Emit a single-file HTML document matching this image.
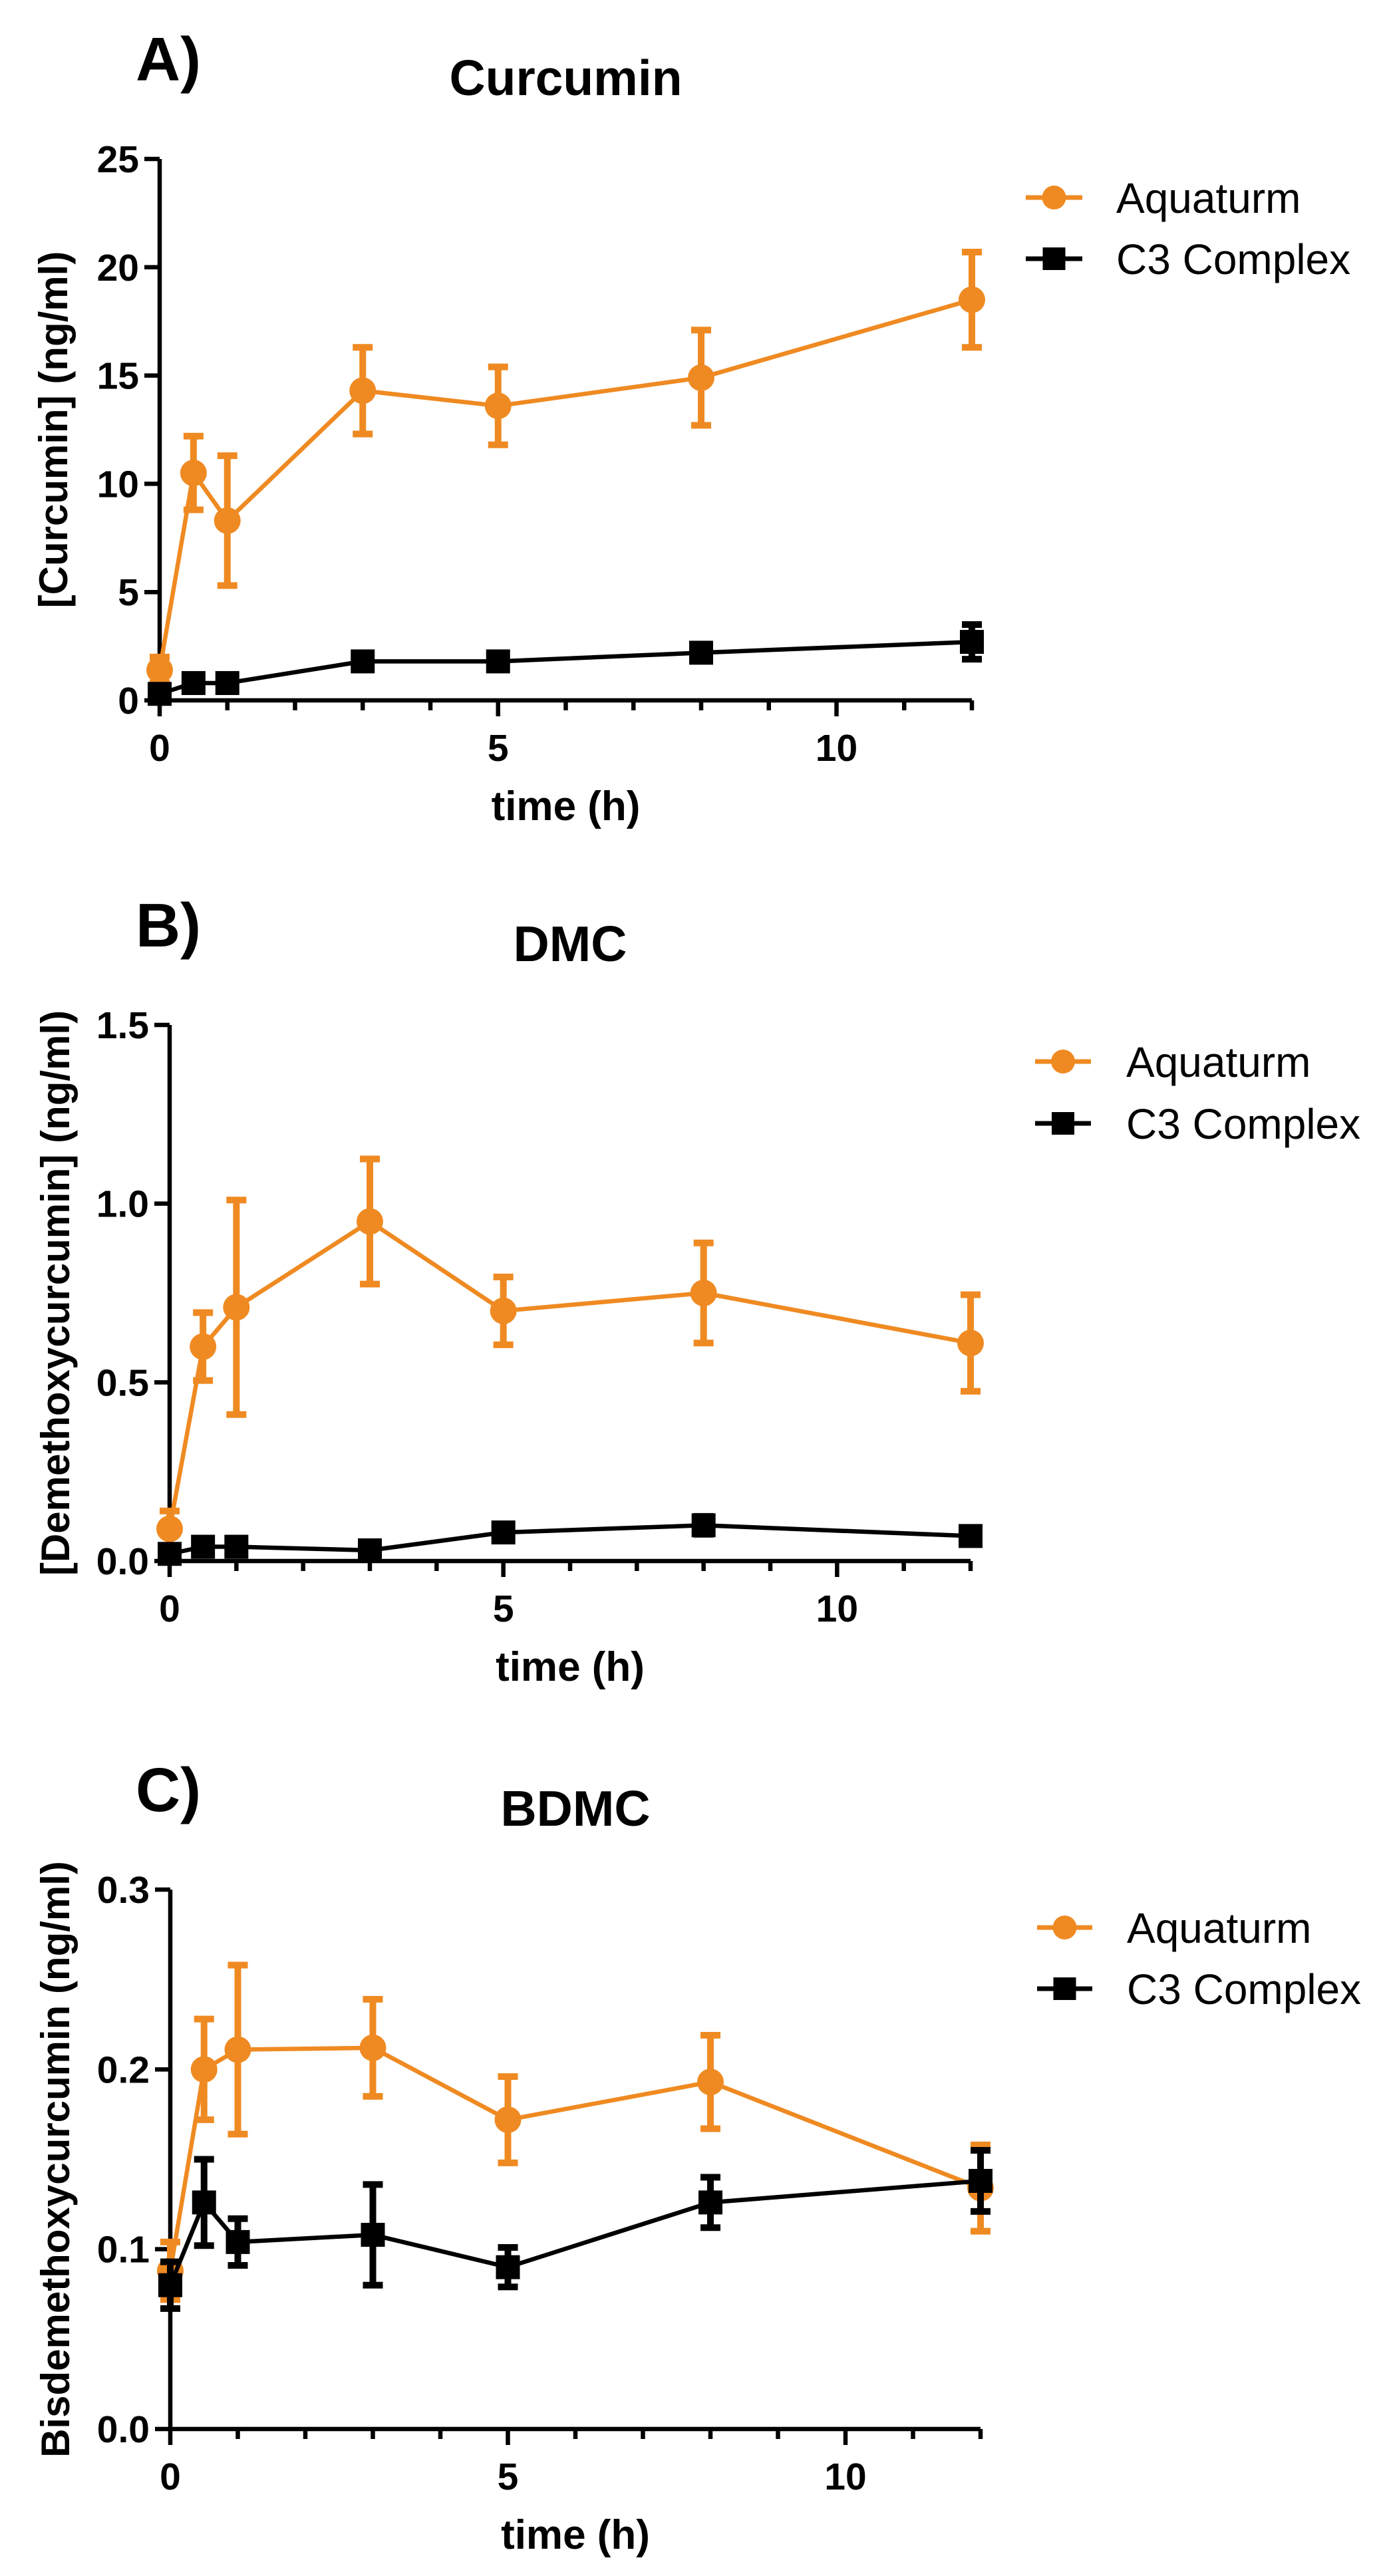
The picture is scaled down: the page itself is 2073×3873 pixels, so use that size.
<!DOCTYPE html>
<html><head><meta charset="utf-8">
<style>
html,body{margin:0;padding:0;background:#fff;}
svg{display:block;}
text{font-family:"Liberation Sans",Arial,sans-serif;}
</style></head>
<body>
<svg id="fig" width="2073" height="3873" viewBox="0 0 2073 3873" xmlns="http://www.w3.org/2000/svg"></svg>
<script>
// ---- data ----
const times = [0, 0.5, 1, 3, 5, 8, 12];
const xTicksMajor = [0, 5, 10];
const seriesNames = ["Aquaturm", "C3 Complex"];

const curAqua = [1.4, 10.5, 8.3, 14.3, 13.6, 14.9, 18.5];
const curAquaErr = [0.6, 1.7, 3.0, 2.0, 1.8, 2.2, 2.2];
const curC3 = [0.3, 0.8, 0.8, 1.8, 1.8, 2.2, 2.7];
const curC3Err = [0.2, 0.2, 0.2, 0.2, 0.2, 0.3, 0.8];
const curTicks = [0, 5, 10, 15, 20, 25];
const curTickLabels = ["0", "5", "10", "15", "20", "25"];

const dmcAqua = [0.09, 0.60, 0.71, 0.95, 0.70, 0.75, 0.61];
const dmcAquaErr = [0.05, 0.095, 0.30, 0.175, 0.095, 0.14, 0.135];
const dmcC3 = [0.02, 0.04, 0.04, 0.03, 0.08, 0.10, 0.07];
const dmcC3Err = [0.01, 0.01, 0.01, 0.01, 0.012, 0.025, 0.01];
const dmcTicks = [0, 0.5, 1.0, 1.5];
const dmcTickLabels = ["0.0", "0.5", "1.0", "1.5"];

const bdmcAqua = [0.088, 0.200, 0.211, 0.212, 0.172, 0.193, 0.134];
const bdmcAquaErr = [0.016, 0.028, 0.047, 0.027, 0.024, 0.026, 0.024];
const bdmcC3 = [0.080, 0.126, 0.104, 0.108, 0.090, 0.126, 0.138];
const bdmcC3Err = [0.013, 0.024, 0.013, 0.028, 0.011, 0.014, 0.017];
const bdmcTicks = [0, 0.1, 0.2, 0.3];
const bdmcTickLabels = ["0.0", "0.1", "0.2", "0.3"];

// ---- layout ----
const ORANGE = "#EF8A22";
const NS = "http://www.w3.org/2000/svg";
const svg = document.getElementById("fig");

function mk(tag, attrs, parent) {
  const e = document.createElementNS(NS, tag);
  for (const k in attrs) e.setAttribute(k, attrs[k]);
  (parent || svg).appendChild(e);
  return e;
}

const panels = [
  {id:"a", letter:"A)", title:"Curcumin", ytitle:"[Curcumin] (ng/ml)",
   x0:240, x12:1461, yTopPx:239, y0Px:1053, ymax:25, ticks:curTicks, tickLabels:curTickLabels,
   aqua:curAqua, aquaErr:curAquaErr, c3:curC3, c3Err:curC3Err,
   legLine:[1542,1627], legText:1678, legY:[297,389]},
  {id:"b", letter:"B)", title:"DMC", ytitle:"[Demethoxycurcumin] (ng/ml)",
   x0:255, x12:1459, yTopPx:1541, y0Px:2347, ymax:1.5, ticks:dmcTicks, tickLabels:dmcTickLabels,
   aqua:dmcAqua, aquaErr:dmcAquaErr, c3:dmcC3, c3Err:dmcC3Err,
   legLine:[1556,1640], legText:1693, legY:[1596,1689]},
  {id:"c", letter:"C)", title:"BDMC", ytitle:"Bisdemethoxycurcumin (ng/ml)",
   x0:256, x12:1474, yTopPx:2841, y0Px:3652, ymax:0.3, ticks:bdmcTicks, tickLabels:bdmcTickLabels,
   aqua:bdmcAqua, aquaErr:bdmcAquaErr, c3:bdmcC3, c3Err:bdmcC3Err,
   legLine:[1559,1642], legText:1694, legY:[2898,2990]}
];

panels.forEach(p => {
  const g = mk("g", {});
  
  
  const xs = t => p.x0 + (p.x12 - p.x0) * t / 12;
  const ys = v => p.y0Px - (p.y0Px - p.yTopPx) * v / p.ymax;
  const cx = (p.x0 + p.x12) / 2;

  let t = mk("text", {x:204, y:p.yTopPx - 118, "font-size":93, "font-weight":"bold"}, g);
  t.textContent = p.letter;
  
  

  t = mk("text", {x:cx, y:p.yTopPx - 96, "font-size":75, "font-weight":"bold", "text-anchor":"middle"}, g);
  t.textContent = p.title;
  
  

  const ymid = (p.yTopPx + p.y0Px) / 2;
  t = mk("text", {x:0, y:0, "font-size":60, "font-weight":"bold", "text-anchor":"middle",
    transform:`translate(${p.id==="a"?101:104},${ymid}) rotate(-90)`}, g);
  t.textContent = p.ytitle;
  
  

  const ax = mk("path", {d:`M${p.x0},${p.yTopPx} V${p.y0Px} H${p.x12}`, fill:"none", stroke:"#000", "stroke-width":6.5}, g);
  
  

  p.ticks.forEach((v, i) => {
    const y = ys(v);
    const tk = mk("line", {x1:p.x0 - 23, x2:p.x0, y1:y, y2:y, stroke:"#000", "stroke-width":6.5}, g);
    
    
    const lb = mk("text", {x:p.x0 - 31, y:y + 20, "font-size":57, "font-weight":"bold", "text-anchor":"end"}, g);
    lb.textContent = p.tickLabels[i];
    
    
  });
  for (let h = 0; h <= 12; h++) {
    const x = xs(h);
    const major = xTicksMajor.indexOf(h) >= 0;
    const tk = mk("line", {x1:x, x2:x, y1:p.y0Px, y2:p.y0Px + (major ? 24 : 15), stroke:"#000", "stroke-width":6.5}, g);
    
    
  }
  xTicksMajor.forEach(h => {
    const lb = mk("text", {x:xs(h), y:p.y0Px + 91, "font-size":57, "font-weight":"bold", "text-anchor":"middle"}, g);
    lb.textContent = String(h);
    
    
  });
  t = mk("text", {x:cx, y:p.y0Px + 180, "font-size":62, "font-weight":"bold", "text-anchor":"middle"}, g);
  t.textContent = "time (h)";
  
  

  const drawSeries = (vals, errs, color, kind, name) => {
    const sg = mk("g", {}, g);
    
    
    const pts = vals.map((v, i) => xs(times[i]) + "," + ys(v)).join(" ");
    const ln = mk("polyline", {points:pts, fill:"none", stroke:color, "stroke-width":6.5, "stroke-linejoin":"round"}, sg);
    
    
    vals.forEach((v, i) => {
      const x = xs(times[i]);
      const yl = ys(v - errs[i]), yh = ys(v + errs[i]);
      const eb = mk("path", {d:`M${x},${yl} V${yh} M${x-15},${yh} H${x+15} M${x-15},${yl} H${x+15}`,
        fill:"none", stroke:color, "stroke-width":10}, sg);
      
      
      let m;
      if (kind === "circle") m = mk("circle", {cx:x, cy:ys(v), r:20, fill:color}, sg);
      else m = mk("rect", {x:x - 18, y:ys(v) - 18, width:36, height:36, fill:color}, sg);
      
      
    });
  };
  drawSeries(p.aqua, p.aquaErr, ORANGE, "circle", "aquaturm");
  drawSeries(p.c3, p.c3Err, "#000", "square", "c3-complex");

  const lg = mk("g", {}, g);
  
  
  [[ORANGE, "circle"], ["#000", "square"]].forEach((s, i) => {
    const y = p.legY[i];
    const e = mk("g", {}, lg);
    
    
    mk("line", {x1:p.legLine[0], x2:p.legLine[1], y1:y, y2:y, stroke:s[0], "stroke-width":7}, e);
    const mx = (p.legLine[0] + p.legLine[1]) / 2;
    if (s[1] === "circle") mk("circle", {cx:mx, cy:y, r:18, fill:s[0]}, e);
    else mk("rect", {x:mx - 17, y:y - 17, width:34, height:34, fill:s[0]}, e);
    const tx = mk("text", {x:p.legText, y:y + 23, "font-size":64}, e);
    tx.textContent = seriesNames[i];
  });
});
</script>
</body></html>
